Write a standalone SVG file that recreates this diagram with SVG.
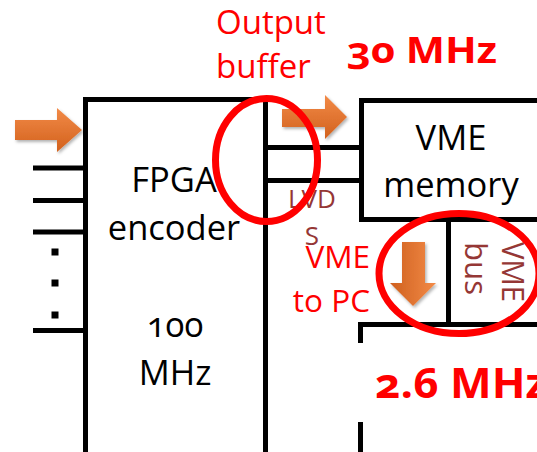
<svg xmlns="http://www.w3.org/2000/svg" width="537" height="452" viewBox="0 0 537 452">
<defs>
<linearGradient id="gR" x1="0" y1="0" x2="0" y2="1"><stop offset="0" stop-color="#f28a47"/><stop offset="1" stop-color="#d2611d"/></linearGradient>
<linearGradient id="gD" x1="0" y1="0" x2="1" y2="0"><stop offset="0" stop-color="#cf601e"/><stop offset="1" stop-color="#f28a47"/></linearGradient>
<filter id="sh" x="-20%" y="-20%" width="150%" height="150%"><feDropShadow dx="1.5" dy="2" stdDeviation="1.5" flood-color="#000" flood-opacity="0.3"/></filter>
<style>
.ln{stroke:#000;stroke-width:5;fill:none}
.box{stroke:#000;stroke-width:5;fill:#fff}
.t{font-family:"Open Sans","Noto Sans",sans-serif;font-variant-numeric:oldstyle-nums}
.blk{fill:#000;font-size:34.5px}
.red{fill:#ff0000}
.dred{fill:#953735}
.ring{fill:none;stroke:#ff0000;stroke-width:7}
</style>
</defs>
<g id="connectors">
<line class="ln" x1="33" y1="168" x2="86" y2="168"/>
<line class="ln" x1="33" y1="200.5" x2="86" y2="200.5"/>
<line class="ln" x1="33" y1="232" x2="86" y2="232"/>
<line class="ln" x1="33" y1="330.5" x2="86" y2="330.5"/>
<line class="ln" x1="265.5" y1="147.5" x2="362" y2="147.5"/>
<line class="ln" x1="265.5" y1="180.5" x2="362" y2="180.5"/>
<line class="ln" x1="448.5" y1="219" x2="448.5" y2="326"/>
</g>
<g id="dots" fill="#000">
<rect x="51.5" y="248.5" width="7" height="7"/>
<rect x="51.5" y="279.5" width="7" height="7"/>
<rect x="51.5" y="311.5" width="7" height="7"/>
</g>
<g id="fpga">
<path class="box" d="M85.5 460 V99.5 H265.5 V460"/>
<text class="t blk" x="174" y="192" text-anchor="middle">FPGA</text>
<text class="t blk" x="174" y="240" text-anchor="middle">encoder</text>
<text class="t blk" x="175" y="337" text-anchor="middle">100</text>
<text class="t blk" x="175" y="385" text-anchor="middle">MHz</text>
</g>
<g id="vme-memory">
<path class="box" d="M545 100.5 H361.5 V219.5 H545"/>
<text class="t blk" x="451" y="150" text-anchor="middle">VME</text>
<text class="t blk" x="451" y="197" text-anchor="middle">memory</text>
</g>
<g id="pc">
<path class="box" d="M545 324.5 H360.5 V460"/>
<rect x="354" y="343" width="190" height="79" fill="#fff"/>
<text class="t red" x="375" y="398" font-size="42" font-weight="700" textLength="172" lengthAdjust="spacingAndGlyphs">2.6 MHz</text>
</g>
<g id="labels">
<text class="t red" x="216" y="34" font-size="33">Output</text>
<text class="t red" x="216" y="78" font-size="33">buffer</text>
<text class="t red" x="347" y="63" font-size="36" font-weight="700" textLength="150" lengthAdjust="spacingAndGlyphs">30 MHz</text>
<text class="t dred" x="312" y="208" font-size="26" text-anchor="middle">LVD</text>
<text class="t dred" x="312" y="245" font-size="26" text-anchor="middle">S</text>
<text class="t red" x="370" y="268" font-size="31.5" text-anchor="end">VME</text>
<text class="t red" x="370" y="312" font-size="31.5" text-anchor="end">to PC</text>
<text class="t dred" font-size="31" transform="translate(502,242) rotate(90)" textLength="60" lengthAdjust="spacingAndGlyphs">VME</text>
<text class="t dred" font-size="31" transform="translate(465,242) rotate(90)" textLength="53" lengthAdjust="spacingAndGlyphs">bus</text>
</g>
<g id="arrows" filter="url(#sh)">
<path fill="url(#gR)" d="M15 120 H57 V108 L82 130 L57 152 V140 H15 Z"/>
<path fill="url(#gR)" d="M282 109 H325 V95 L347 117 L325 139 V127 H282 Z"/>
<path fill="url(#gD)" d="M402 242 H425 V283 H436 L413 306 L390 283 H402 Z"/>
</g>
<g id="highlights">
<ellipse class="ring" cx="266.5" cy="160" rx="51" ry="61.5"/>
<ellipse class="ring" cx="459" cy="273.5" rx="80" ry="60"/>
</g>
</svg>
